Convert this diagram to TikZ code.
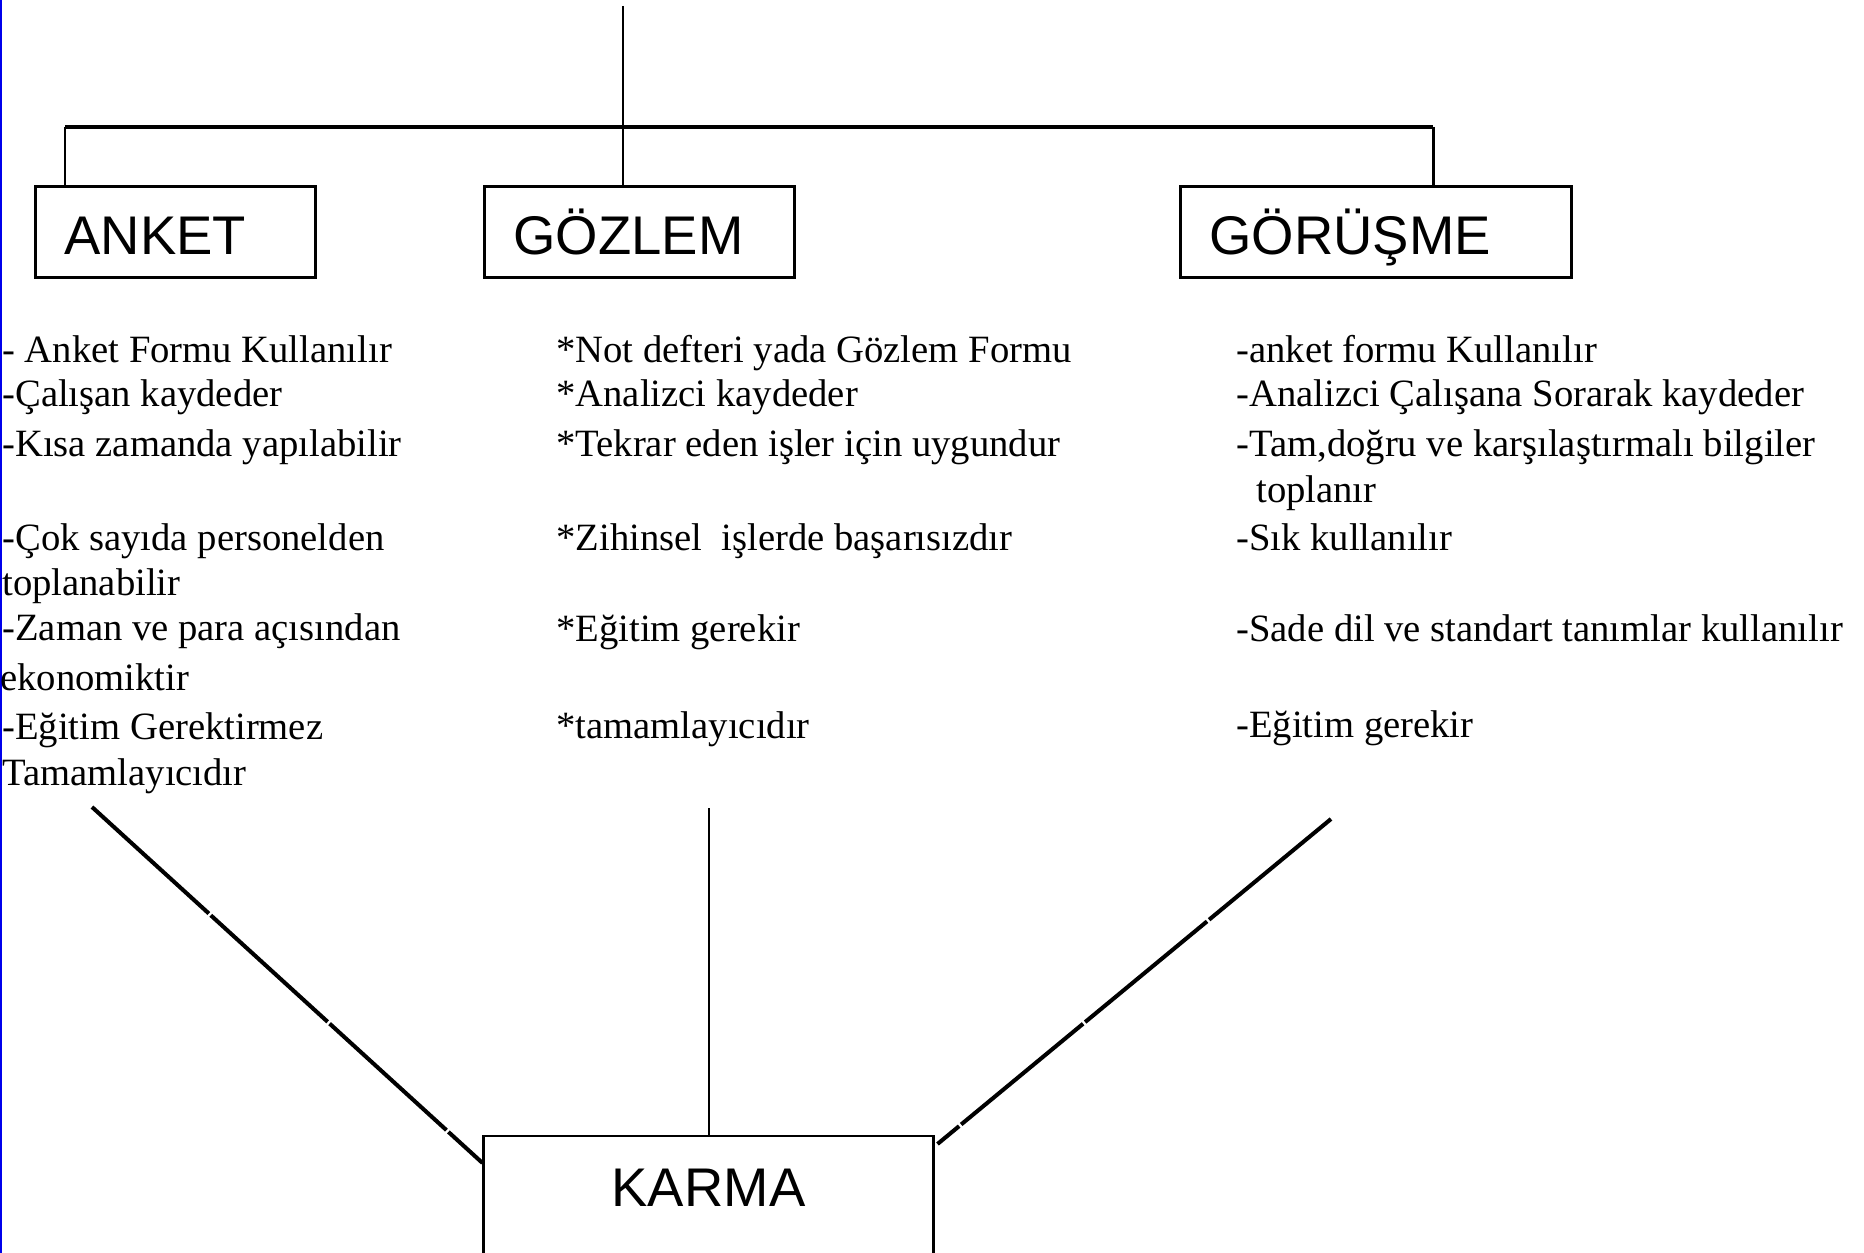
\documentclass[tikz,border=0pt]{standalone}
\usepackage{fontspec}
\setmainfont{Liberation Serif}
\newfontfamily\kutufont{Liberation Sans}
\usetikzlibrary{positioning, calc}
\definecolor{KenarMavi}{RGB}{0,0,235}
\tikzset{
    yontemkutu/.style={
        draw, line width=1.6pt, fill=white, anchor=north west,
        inner ysep=0pt, inner xsep=0.58cm,
        text height=1.36cm, text depth=0.46cm, align=left,
        font=\kutufont\fontsize{31}{36}\selectfont
    },
    madde/.style={
        anchor=base west, inner sep=0pt,
        font=\fontsize{22}{26}\selectfont
    },
    baglanti/.style={
        line width=1.7pt
    }
}

\begin{document}
\begin{tikzpicture}[
        x=0.02cm, y=-0.02cm,
        capraz/.style={line width=2.3pt, dash pattern=on 90pt off 1.5pt}  % karmaya inen kollar
    ]
    \useasboundingbox (0,0) rectangle (1864,1253);
    \clip (0,0) rectangle (1864,1253);
    \draw[KenarMavi, line width=1.4pt] (0.8,0) -- (0.8,1253);

    % --- YONTEM KUTULARI ---
    \node[yontemkutu, text width=4.44cm] (anket) at (34,185) {ANKET};
    \node[yontemkutu, text width=5.04cm] (gozlem) at (483,185) {GÖZLEM};
    \node[yontemkutu, text width=6.66cm] (gorusme) at (1179,185) {GÖRÜŞME};
    \node[yontemkutu, anchor=north, text width=7.84cm, align=center,
          line width=1.2pt, text height=1.4cm, text depth=4cm] (karma) at (708.5,1135) {KARMA};

    % --- AGAC BAGLANTILARI ---
    \coordinate (ust) at (623,6);
    \coordinate (kolsol) at (65,127);
    \coordinate (kolsag) at (1433,127);
    \draw[baglanti] (ust) -- (ust |- gozlem.north);
    \draw[baglanti, line width=2.3pt] (kolsol) -- (kolsag);
    \draw[baglanti] (kolsol) -- (kolsol |- anket.north);
    \draw[baglanti] (kolsag) -- (kolsag |- gorusme.north);

    % --- ANKET MADDELERI ---
    \node[madde] (a1) at (2,363) {- Anket Formu Kullanılır};
    \node[madde] (a2) at (2,407) {-Çalışan kaydeder};
    \node[madde] (a3) at (2,457) {-Kısa zamanda yapılabilir};
    \node[madde] (a4) at (2,551) {-Çok sayıda personelden};
    \node[madde] (a5) at (2,596) {toplanabilir};
    \node[madde] (a6) at (2,641) {-Zaman ve para açısından};
    \node[madde] (a7) at (0,690) {ekonomiktir};
    \node[madde] (a8) at (2,739) {-Eğitim Gerektirmez};
    \node[madde] (a9) at (2,785) {Tamamlayıcıdır};

    % --- GOZLEM MADDELERI ---
    \node[madde] (g1) at (556,363) {*Not defteri yada Gözlem Formu};
    \node[madde] (g2) at (556,407) {*Analizci kaydeder};
    \node[madde] (g3) at (556,457) {*Tekrar eden işler için uygundur};
    \node[madde] (g4) at (556,551) {*Zihinsel\ \ işlerde başarısızdır};
    \node[madde] (g5) at (556,642) {*Eğitim gerekir};
    \node[madde] (g6) at (556,738) {*tamamlayıcıdır};

    % --- GORUSME MADDELERI ---
    \node[madde] (r1) at (1236,363) {-anket formu Kullanılır};
    \node[madde] (r2) at (1236,407) {-Analizci Çalışana Sorarak kaydeder};
    \node[madde] (r3) at (1236,457) {-Tam,doğru ve karşılaştırmalı bilgiler};
    \node[madde] (r4) at (1256,503) {toplanır};
    \node[madde] (r5) at (1236,551) {-Sık kullanılır};
    \node[madde] (r6) at (1236,642) {-Sade dil ve standart tanımlar kullanılır};
    \node[madde] (r7) at (1236,737) {-Eğitim gerekir};

    % --- KARMA BAGLANTILARI ---
    \coordinate (solucu) at (92,807);
    \coordinate (ortaucu) at (709,808);
    \coordinate (sagucu) at (1331,819);
    \draw[capraz] (solucu) -- ([yshift=-0.56cm]karma.north west);
    \draw[line width=1.2pt] (ortaucu) -- (ortaucu |- karma.north);
    \draw[capraz] (sagucu) -- ([xshift=0.06cm, yshift=-0.18cm]karma.north east);
\end{tikzpicture}
\end{document}
